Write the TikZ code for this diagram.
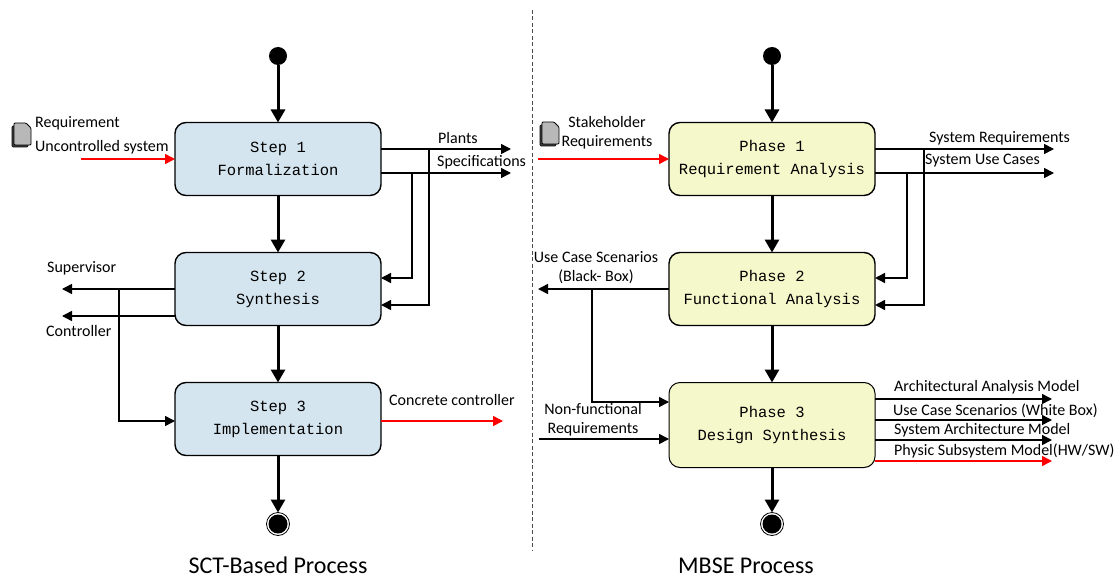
\documentclass[tikz,border=0pt]{standalone}
\usepackage{fontspec}
\setmainfont{Carlito}
\newfontfamily\boxfont{Liberation Mono}
\usetikzlibrary{arrows.meta}
\definecolor{stepblue}{HTML}{D5E5EF}
\definecolor{phaseyellow}{HTML}{F5F8CB}
\newcommand{\docicon}[2]{
 \fill[black!75, draw=black, line width=.6pt, rounded corners=1pt] (#1,#2+3) -- (#1+16,#2+3) -- (#1+16,#2+24) -- (#1,#2+24) -- cycle;
 \fill[black!28, draw=black, line width=.8pt, rounded corners=1pt] (#1+2,#2) -- (#1+14,#2) -- (#1+19,#2+5) -- (#1+19,#2+22) -- (#1+2,#2+22) -- cycle;
}
\tikzset{
 stepbox/.style={draw, line width=1.4pt, rounded corners=11pt, fill=stepblue, minimum width=206pt, minimum height=73pt, align=center, outer sep=0pt, font=\boxfont\fontsize{15.5}{23}\selectfont},
 phasebox/.style={stepbox, fill=phaseyellow},
 startdot/.style={circle, fill=black, inner sep=0pt, outer sep=0pt, minimum size=18pt},
 enddot/.style={circle, fill=white, draw=black, line width=.8pt, inner sep=0pt, outer sep=0pt, minimum size=23pt, path picture={\fill[black] (path picture bounding box.center) circle (9.5pt);}},
 lbl/.style={inner sep=0pt, font=\fontsize{16}{19}\selectfont},
 captionlbl/.style={inner sep=0pt, anchor=base, font=\fontsize{24}{26}\selectfont},
 flow/.style={line width=3pt, -{Triangle[length=13pt,width=14pt]}},
 data/.style={line width=1.5pt, -{Triangle[length=10pt,width=10pt]}},
 reddata/.style={data, red}
}
\begin{document}
\begin{tikzpicture}[x=1pt, y=-1pt]
 \useasboundingbox (0,0) rectangle (1115,580);

 \node[stepbox] (step1) at (278,159) {Step 1\\Formalization};
 \node[stepbox] (step2) at (278,289) {Step 2\\Synthesis};
 \node[stepbox] (step3) at (278,419) {Step 3\\Implementation};
 \node[phasebox] (phase1) at (772,159) {Phase 1\\Requirement Analysis};
 \node[phasebox] (phase2) at (772,289) {Phase 2\\Functional Analysis};
 \node[phasebox, minimum height=85pt, line width=1pt] (phase3) at (772,425) {Phase 3\\Design Synthesis};

 \node[startdot] (start1) at (278,56) {};
 \node[startdot] (start2) at (772,56) {};
 \node[enddot] (end1) at (278,524) {};
 \node[enddot] (end2) at (772,524) {};

 \draw[flow] (start1) to (step1);
 \draw[flow] (step1) to (step2);
 \draw[flow] (step2) to (step3);
 \draw[flow] (step3) to (end1);
 \draw[flow] (start2) to (phase1);
 \draw[flow] (phase1) to (phase2);
 \draw[flow] (phase2) to (phase3);
 \draw[flow] (phase3) to (end2);

 % left side
 \coordinate (reqin) at (81,159);
 \coordinate (plantsout) at (511,149);
 \coordinate (specout) at (511,173);
 \coordinate (superout) at (62,289);
 \coordinate (ctrlout) at (62,316);
 \coordinate (concout) at (503,421);
 \draw[reddata] (reqin) to (step1.west);
 \draw[data] (step1.east |- plantsout) to (plantsout);
 \draw[data] (step1.east |- specout) to (specout);
 \draw[data] (412,173) |- (step2.east |- 0,278);
 \draw[data] (429,149) |- (step2.east |- 0,305);
 \draw[data] (step2.west |- superout) to (superout);
 \draw[data] (step2.west |- ctrlout) to (ctrlout);
 \draw[data] (119,289) |- (step3.west |- 0,421);
 \draw[reddata] (step3.east |- concout) to (concout);

 % right side
 \coordinate (stakein) at (538,159);
 \coordinate (sysreqout) at (1054,149);
 \coordinate (sysucout) at (1054,173);
 \coordinate (ucbout) at (538,289);
 \coordinate (nfin) at (539,439);
 \coordinate (archout) at (1052,399);
 \coordinate (ucwout) at (1052,420);
 \coordinate (sysout) at (1052,440);
 \coordinate (physout) at (1052,461);
 \draw[reddata] (stakein) to (phase1.west);
 \draw[data] (phase1.east |- sysreqout) to (sysreqout);
 \draw[data] (phase1.east |- sysucout) to (sysucout);
 \draw[data] (907,173) |- (phase2.east |- 0,278);
 \draw[data] (924,149) |- (phase2.east |- 0,305);
 \draw[data] (phase2.west |- ucbout) to (ucbout);
 \draw[data] (592,289) |- (phase3.west |- 0,402);
 \draw[data] (nfin) to (phase3.west |- nfin);
 \draw[data] (phase3.east |- archout) to (archout);
 \draw[data] (phase3.east |- ucwout) to (ucwout);
 \draw[data] (phase3.east |- sysout) to (sysout);
 \draw[reddata] (phase3.east |- physout) to (physout);

 \docicon{12}{123}
 \docicon{540}{122}

 \node[lbl, anchor=west] (req) at (35,123) {Requirement};
 \node[lbl, anchor=west] (unc) at (35,147) {Uncontrolled system};
 \node[lbl, anchor=west] (plants) at (438,138) {Plants};
 \node[lbl, anchor=west] (spec) at (437,162) {Specifications};
 \node[lbl, anchor=west] (super) at (47,268) {Supervisor};
 \node[lbl, anchor=west] (ctrl) at (46,331) {Controller};
 \node[lbl, anchor=west] (conc) at (389,400) {Concrete controller};
 \node[lbl, align=center] (stake) at (607,133) {Stakeholder\\Requirements};
 \node[lbl, anchor=west] (sysreq) at (929,138) {System Requirements};
 \node[lbl, anchor=west] (sysuc) at (925,161) {System Use Cases};
 \node[lbl, align=center] (ucb) at (596,268) {Use Case Scenarios\\(Black- Box)};
 \node[lbl, align=center] (nf) at (593,420) {Non-functional\\Requirements};
 \node[lbl, anchor=west] (arch) at (894,387) {Architectural Analysis Model};
 \node[lbl, anchor=west] (ucw) at (893,411) {Use Case Scenarios (White Box)};
 \node[lbl, anchor=west] (sys) at (894,430) {System Architecture Model};
 \node[lbl, anchor=west] (phys) at (894,451) {Physic Subsystem Model(HW/SW)};

 \node[captionlbl] (sct) at (278,573) {SCT-Based Process};
 \node[captionlbl] (mbse) at (746,573) {MBSE Process};

 \coordinate (divtop) at (532,10);
 \coordinate (divbot) at (532,551);
 \draw[dash pattern=on 4pt off 2.5pt, line width=1pt, black!70] (divtop) to (divbot);
\end{tikzpicture}
\end{document}
